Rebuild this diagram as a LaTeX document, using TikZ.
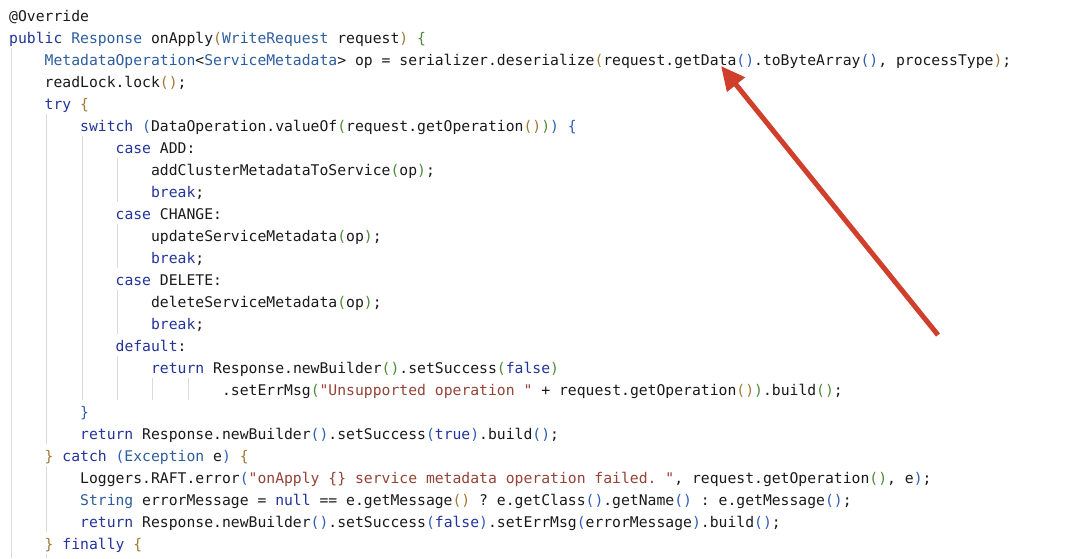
\documentclass[tikz,border=0pt]{standalone}
\usepackage{fontspec}
\setmonofont{DejaVu Sans Mono}
\usetikzlibrary{arrows.meta}
\definecolor{kwc}{HTML}{23349A}
\definecolor{tyc}{HTML}{2D5E9E}
\definecolor{stc}{HTML}{944437}
\definecolor{brc}{HTML}{A07A36}
\definecolor{grc}{HTML}{4E8B3A}
\definecolor{blc}{HTML}{2F5FB5}
\definecolor{txc}{HTML}{1A1A1A}
\definecolor{guidec}{HTML}{DADADA}
\definecolor{arrowc}{HTML}{CF3F2B}
\newcommand\kw[1]{\textcolor{kwc}{#1}}
\newcommand\ty[1]{\textcolor{tyc}{#1}}
\newcommand\strg[1]{\textcolor{stc}{#1}}
\newcommand\pbr[1]{\textcolor{brc}{#1}}
\newcommand\pgr[1]{\textcolor{grc}{#1}}
\newcommand\pbl[1]{\textcolor{blc}{#1}}
\newcommand\codeln[3]{\node[codetext] (l#1) at ({9+35.48*#2},{21+22*#1}) {#3};}
\newcommand\guide[4]{\draw[guideline] ({11+35.48*#2},#3) coordinate (#1a) -- ({11+35.48*#2},#4) coordinate (#1b);}
\begin{document}
\begin{tikzpicture}[x=1pt,y=-1pt,
  codetext/.style={anchor=base west,inner sep=0pt,text=txc,font=\ttfamily\fontsize{14.73}{18}\selectfont},
  guideline/.style={draw=guidec,line width=0.9pt},
  redarrow/.style={draw=arrowc,line width=5pt,-{Triangle[length=24pt,width=22pt]}}]
\useasboundingbox[fill=white] (0,0) rectangle (1080,558);
% indent guides
\guide{gm}{0}{48}{558}
\guide{gt}{1}{114}{444}
\guide{gs}{2}{136}{400}
\guide{ga}{3}{158}{202}
\guide{gc}{3}{224}{268}
\guide{gd}{3}{290}{334}
\guide{gf}{3}{356}{400}
\guide{gk}{4}{378}{400}
\guide{gl}{5}{378}{400}
\guide{gh}{1}{466}{532}
\guide{gy}{1}{554}{558}
% code
\codeln{0}{0}{@Override}
\codeln{1}{0}{\kw{public} \ty{Response} onApply\pbr{(}\ty{WriteRequest} request\pbr{)} \pgr{\{}}
\codeln{2}{1}{\ty{MetadataOperation}<\ty{ServiceMetadata}> op = serializer.deserialize\pbr{(}request.getData\pbl{()}.toByteArray\pbl{()}, processType\pbr{)};}
\codeln{3}{1}{readLock.lock\pbr{()};}
\codeln{4}{1}{\kw{try} \pbr{\{}}
\codeln{5}{2}{\kw{switch} \pbl{(}DataOperation.valueOf\pgr{(}request.getOperation\pbr{()}\pgr{)}\pbl{)} \pbl{\{}}
\codeln{6}{3}{\kw{case} ADD:}
\codeln{7}{4}{addClusterMetadataToService\pgr{(}op\pgr{)};}
\codeln{8}{4}{\kw{break};}
\codeln{9}{3}{\kw{case} CHANGE:}
\codeln{10}{4}{updateServiceMetadata\pgr{(}op\pgr{)};}
\codeln{11}{4}{\kw{break};}
\codeln{12}{3}{\kw{case} DELETE:}
\codeln{13}{4}{deleteServiceMetadata\pgr{(}op\pgr{)};}
\codeln{14}{4}{\kw{break};}
\codeln{15}{3}{\kw{default}:}
\codeln{16}{4}{\kw{return} Response.newBuilder\pgr{()}.setSuccess\pgr{(}\kw{false}\pgr{)}}
\codeln{17}{6}{.setErrMsg\pgr{(}\strg{"Unsupported operation "} + request.getOperation\pbr{()}\pgr{)}.build\pgr{()};}
\codeln{18}{2}{\pbl{\}}}
\codeln{19}{2}{\kw{return} Response.newBuilder\pbl{()}.setSuccess\pbl{(}\kw{true}\pbl{)}.build\pbl{()};}
\codeln{20}{1}{\pbr{\}} \kw{catch} \pbl{(}\ty{Exception} e\pbl{)} \pbr{\{}}
\codeln{21}{2}{Loggers.RAFT.error\pbl{(}\strg{"onApply \{\} service metadata operation failed. "}, request.getOperation\pgr{()}, e\pbl{)};}
\codeln{22}{2}{\ty{String} errorMessage = \kw{null} == e.getMessage\pbr{()} ? e.getClass\pbl{()}.getName\pbl{()} : e.getMessage\pbl{()};}
\codeln{23}{2}{\kw{return} Response.newBuilder\pbl{()}.setSuccess\pbl{(}\kw{false}\pbl{)}.setErrMsg\pbl{(}errorMessage\pbl{)}.build\pbl{()};}
\codeln{24}{1}{\pbr{\}} \kw{finally} \pbr{\{}}
\codeln{25}{2}{readLock.unlock\pbr{()};}
% arrow
\coordinate (tail) at (938,335);
\coordinate (tip) at (721,66);
\draw[redarrow] (tail) -- (tip);
\end{tikzpicture}
\end{document}
